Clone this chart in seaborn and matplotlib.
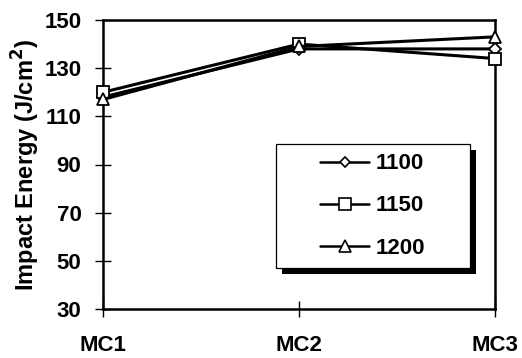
import matplotlib
matplotlib.use("Agg")
import matplotlib.pyplot as plt
import seaborn as sns
import pandas as pd
from matplotlib.lines import Line2D
from matplotlib.patches import Rectangle
from matplotlib.transforms import offset_copy

categories = ["MC1", "MC2", "MC3"]
series_names = ["1100", "1150", "1200"]
s1100 = [118, 138, 138]
s1150 = [120, 140, 134]
s1200 = [117, 139, 143]
yticks = [30, 50, 70, 90, 110, 130, 150]

rows = []
for name, vals in zip(series_names, [s1100, s1150, s1200]):
    for i, (c, v) in enumerate(zip(categories, vals)):
        rows.append({"pos": i, "cat": c, "energy": v, "series": name})
df = pd.DataFrame(rows)

sns.set_theme(style="white")
plt.rcParams["font.family"] = ["Liberation Sans", "DejaVu Sans"]
plt.rcParams["font.weight"] = "bold"
for key in ["text.color", "axes.labelcolor", "xtick.color", "ytick.color"]:
    plt.rcParams[key] = "black"

fig = plt.figure(figsize=(5.22, 3.58), dpi=100)
ax = fig.add_axes([103 / 522, 1 - 309 / 358, 392 / 522, 289 / 358])

markers = {"1100": "D", "1150": "s", "1200": "^"}
sizes = {"1100": 6, "1150": 9, "1200": 9}
sns.lineplot(data=df, x="pos", y="energy", hue="series", style="series",
             markers=markers, dashes=False, palette=["black"] * 3,
             linewidth=2.2, markersize=9, markerfacecolor="white",
             markeredgecolor="black", markeredgewidth=1.3, ax=ax, legend=False)
for line, name in zip(ax.lines, series_names):
    line.set_markersize(sizes[name])
    line.set_clip_on(False)
    line.set_zorder(5)

ax.set_xlim(0, 2)
ax.set_ylim(30, 150)
ax.set_xticks(range(len(categories)))
ax.set_xticklabels(categories, fontsize=16, fontweight="bold")
ax.set_yticks(yticks)
ax.set_yticklabels([str(t) for t in yticks], fontsize=16, fontweight="bold")
ax.tick_params(axis="both", direction="inout", length=11, width=1.0,
               colors="black", left=True, bottom=True)
ax.tick_params(axis="x", pad=13)
ax.tick_params(axis="y", pad=10)
ax.set_xlabel("")
ax.set_ylabel("Impact Energy (J/cm$^\\mathbf{2}$)", fontsize=17,
              fontweight="bold", labelpad=2)
for sp in ax.spines.values():
    sp.set_color("black")
    sp.set_linewidth(1.8)

# legend box with solid drop shadow
bx0, by0, bw, bh = 0.441, 0.142, 0.495, 0.429
shadow_tr = offset_copy(ax.transAxes, fig=fig, x=6, y=-6, units="dots")
ax.add_patch(Rectangle((bx0, by0), bw, bh, transform=shadow_tr,
                       facecolor="black", edgecolor="none", zorder=6))
ax.add_patch(Rectangle((bx0, by0), bw, bh, transform=ax.transAxes,
                       facecolor="white", edgecolor="black", linewidth=0.9,
                       zorder=7))

handles = [Line2D([], [], color="black", linewidth=1.8, marker=markers[n],
                  markersize=sizes[n] - 1, markerfacecolor="white",
                  markeredgecolor="black", markeredgewidth=1.2)
           for n in series_names]
leg = ax.legend(handles, series_names, loc="center",
                bbox_to_anchor=(bx0 + bw / 2, by0 + bh / 2), frameon=False,
                prop={"size": 16, "weight": "bold"},
                handlelength=2.2, handletextpad=0.3, labelspacing=0.95,
                borderpad=0, borderaxespad=0)
leg.set_zorder(8)

fig.savefig("out.png", dpi=100)
